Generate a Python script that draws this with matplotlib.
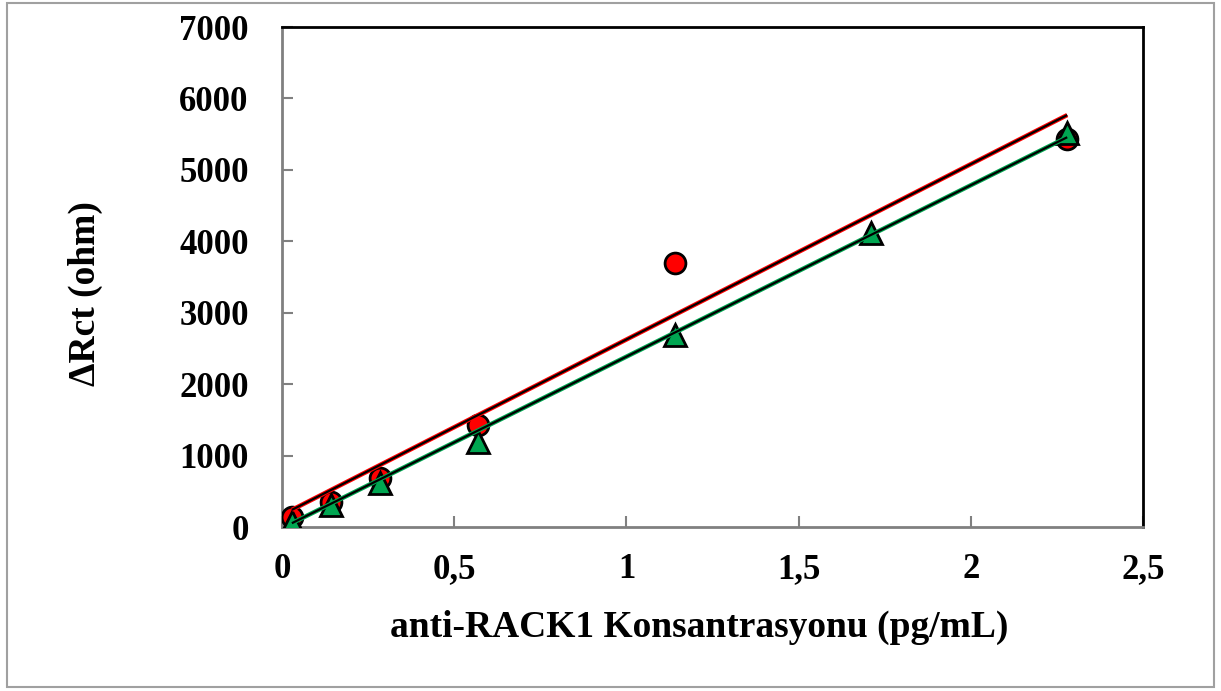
import matplotlib
matplotlib.use("Agg")
import matplotlib.pyplot as plt
from matplotlib.patches import Rectangle
from matplotlib.ticker import FuncFormatter, MultipleLocator

# anti-RACK1 concentration (pg/mL) vs. charge transfer resistance change
conc_red = [0.0285, 0.1425, 0.285, 0.57, 1.14, 2.28]
rct_red = [140, 350, 690, 1430, 3690, 5430]
conc_green = [0.0285, 0.1425, 0.285, 0.57, 1.14, 1.71, 2.28]
rct_green = [70, 310, 615, 1190, 2685, 4120, 5510]

# linear trendlines: slope, intercept, x-range
fit_red = (2455.0, 170.0)
fit_green = (2400.0, -15.0)
fit_range = [0.0285, 2.28]

C_RED = "#ff0000"
C_GREEN = "#00a651"
C_GRAY = "#808080"

plt.rcParams["font.family"] = ["Liberation Serif", "DejaVu Serif"]
plt.rcParams["font.weight"] = "bold"

fig = plt.figure(figsize=(12.21, 6.91), dpi=100)
ax = fig.add_axes([0.2310, 0.2373, 0.7051, 0.7236])

fig.patches.append(Rectangle((0.006, 0.006), 0.988, 0.989, transform=fig.transFigure,
                             fill=False, edgecolor="#a0a0a0", lw=1.5))

ax.plot(conc_red, rct_red, "o", ms=15, mfc=C_RED, mec="black", mew=2, zorder=3)
ax.plot(conc_green, rct_green, "^", ms=15.5, mfc=C_GREEN, mec="black", mew=2, zorder=3)

for (m, b), col in ((fit_red, C_RED), (fit_green, C_GREEN)):
    ys = [m * x + b for x in fit_range]
    ax.plot(fit_range, ys, color=col, lw=3.2, zorder=4, solid_capstyle="butt")
    ax.plot(fit_range, ys, color="black", lw=1.6, zorder=5, solid_capstyle="butt")

ax.set_xlim(0, 2.5)
ax.set_ylim(0, 7000)
ax.xaxis.set_major_locator(MultipleLocator(0.5))
ax.yaxis.set_major_locator(MultipleLocator(1000))
ax.xaxis.set_major_formatter(FuncFormatter(lambda v, _: f"{v:g}".replace(".", ",")))

for side in ("left", "bottom"):
    ax.spines[side].set_color(C_GRAY)
    ax.spines[side].set_linewidth(2)
for side in ("top", "right"):
    ax.spines[side].set_color("black")
    ax.spines[side].set_linewidth(2)

ax.tick_params(axis="both", direction="in", length=8, width=1.5, color=C_GRAY, labelsize=25)
ax.tick_params(axis="x", pad=19)
ax.tick_params(axis="y", pad=24)

ax.set_xlabel("anti-RACK1 Konsantrasyonu (pg/mL)", fontsize=27, fontweight="bold", labelpad=17)
ax.set_ylabel("ΔRct (ohm)", fontsize=27, fontweight="bold", labelpad=55)
ax.xaxis.label.set_x(0.484)
ax.yaxis.label.set_y(0.466)

fig.savefig("out.png", dpi=100)
